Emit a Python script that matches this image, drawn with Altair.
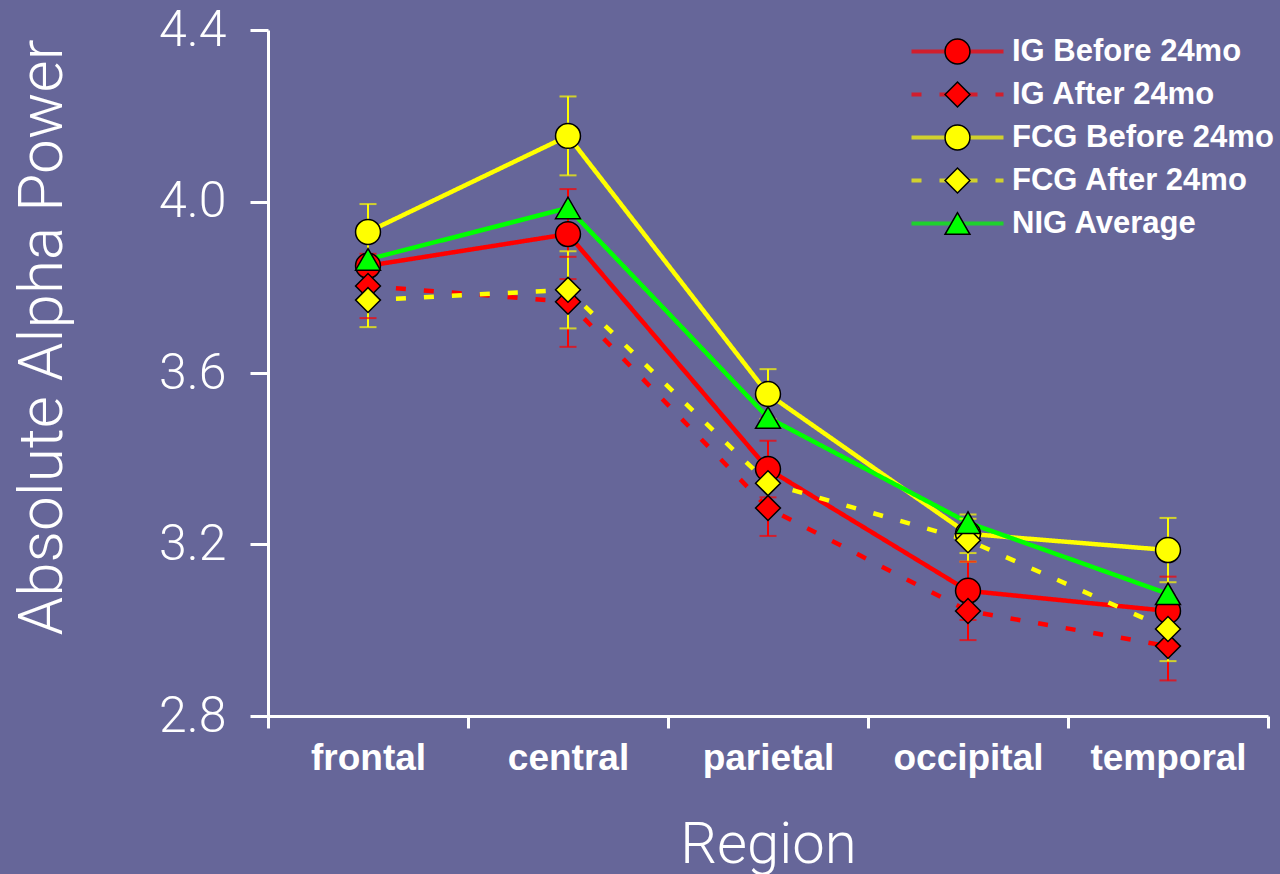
import altair as alt
import pandas as pd

regions = ["frontal", "central", "parietal", "occipital", "temporal"]
series_names = ["IG Before 24mo", "IG After 24mo", "FCG Before 24mo", "FCG After 24mo", "NIG Average"]

ig_before = [3.850, 3.924, 3.376, 3.092, 3.045]
ig_after = [3.803, 3.766, 3.285, 3.045, 2.963]
fcg_before = [3.929, 4.153, 3.551, 3.225, 3.187]
fcg_after = [3.770, 3.794, 3.343, 3.210, 3.003]
nig_average = [3.865, 3.985, 3.496, 3.251, 3.085]

ig_before_err = [0.08, 0.105, 0.066, 0.068, 0.08]
ig_after_err = [0.075, 0.105, 0.065, 0.068, 0.08]
fcg_before_err = [0.065, 0.092, 0.058, 0.045, 0.075]
fcg_after_err = [0.063, 0.09, 0.05, 0.05, 0.075]

colors = ["#ff0000", "#ff0000", "#ffff00", "#ffff00", "#00ff00"]
outline = ["#000000"] * 5
shapes = ["circle", "diamond", "circle", "diamond", "triangle-up"]
dashes = [[1, 0], [10, 18], [1, 0], [10, 18], [1, 0]]

values = [ig_before, ig_after, fcg_before, fcg_after, nig_average]
errors = [ig_before_err, ig_after_err, fcg_before_err, fcg_after_err, None]

# marker keys differ from the line keys so that the two legends stay separate
marker_names = [s + " (marker)" for s in series_names]

rows, err_rows = [], []
for s, m, vals, errs, c in zip(series_names, marker_names, values, errors, colors):
    for i, (r, v) in enumerate(zip(regions, vals)):
        rows.append({"series": s, "marker": m, "region": r, "value": v})
        if errs is not None:
            e = errs[i]
            err_rows.append({"series": s, "region": r, "lo": v - e, "hi": v + e, "ecolor": c})
df = pd.DataFrame(rows)
edf = pd.DataFrame(err_rows)

BG = "#666699"
LIGHT_FONT = "Roboto"
BOLD_FONT = "Liberation Sans"

x_enc = alt.X(
    "region:N",
    sort=regions,
    scale=alt.Scale(type="band", domain=regions, paddingInner=0, paddingOuter=0),
    axis=alt.Axis(
        title="Region", tickBand="extent", labelAngle=0,
        labelFont=BOLD_FONT, labelFontWeight="bold", labelFontSize=37, labelColor="white",
        labelPadding=12, tickSize=12, tickWidth=3, tickColor="white",
        domainColor="white", domainWidth=3,
        titleFont=LIGHT_FONT, titleFontWeight=300, titleFontSize=58, titleColor="white",
        titleBaseline="alphabetic", titleY=146,
    ),
)
y_scale = alt.Scale(domain=[2.8, 4.4], nice=False, zero=False)
y_enc = alt.Y(
    "value:Q", scale=y_scale,
    axis=alt.Axis(
        title="Absolute Alpha Power", values=[2.8, 3.2, 3.6, 4.0, 4.4], format=".1f", grid=False,
        labelFont=LIGHT_FONT, labelFontWeight=300, labelFontSize=50, labelColor="white",
        labelPadding=24, tickSize=18, tickWidth=3, tickColor="white",
        domainColor="white", domainWidth=3,
        titleFont=LIGHT_FONT, titleFontWeight=300, titleFontSize=62, titleColor="white",
        titleAngle=-90, titleBaseline="alphabetic", titleAlign="center",
        titleX=-207, titleY=307,
    ),
)

# a long horizontal stroke drawn from a compact symbol size, so rows keep the label height
LINE_SYMBOL = "M-3.68,0H3.68"

line_legend = alt.Legend(
    orient="none", legendX=674, legendY=6, title=None, padding=0,
    symbolType=LINE_SYMBOL, symbolSize=625, symbolStrokeWidth=4, symbolOpacity=1,
    labelFont=BOLD_FONT, labelFontWeight="bold", labelFontSize=31, labelColor="white",
    labelOffset=39, labelLimit=400, rowPadding=11,
)
marker_legend = alt.Legend(
    orient="none", legendX=674, legendY=6, title=None, padding=0,
    symbolSize=620, symbolStrokeWidth=1.5, symbolOpacity=1,
    labelFont=BOLD_FONT, labelFontWeight="bold", labelFontSize=31, labelExpr="''",
    labelLimit=400, rowPadding=11,
)

lines = alt.Chart(df).mark_line(strokeWidth=4.5).encode(
    x=x_enc, y=y_enc,
    color=alt.Color("series:N", scale=alt.Scale(domain=series_names, range=colors), legend=line_legend),
    strokeDash=alt.StrokeDash("series:N", scale=alt.Scale(domain=series_names, range=dashes), legend=line_legend),
)

err_rule = alt.Chart(edf).mark_rule(strokeWidth=2).encode(
    x=alt.X("region:N", sort=regions),
    y=alt.Y("lo:Q", scale=y_scale),
    y2="hi:Q",
    color=alt.Color("ecolor:N", scale=None),
)
err_lo = alt.Chart(edf).mark_tick(size=17, thickness=2).encode(
    x=alt.X("region:N", sort=regions),
    y=alt.Y("lo:Q", scale=y_scale),
    color=alt.Color("ecolor:N", scale=None),
)
err_hi = alt.Chart(edf).mark_tick(size=17, thickness=2).encode(
    x=alt.X("region:N", sort=regions),
    y=alt.Y("hi:Q", scale=y_scale),
    color=alt.Color("ecolor:N", scale=None),
)

points = alt.Chart(df).mark_point(filled=True, size=620, strokeWidth=1.5, opacity=1).encode(
    x=x_enc, y=y_enc,
    fill=alt.Fill("marker:N", scale=alt.Scale(domain=marker_names, range=colors), legend=marker_legend),
    stroke=alt.Stroke("marker:N", scale=alt.Scale(domain=marker_names, range=outline), legend=marker_legend),
    shape=alt.Shape("marker:N", scale=alt.Scale(domain=marker_names, range=shapes), legend=marker_legend),
)

chart = alt.layer(lines, err_rule, err_lo, err_hi, points).properties(
    width=1000, height=686,
    autosize=alt.AutoSizeParams(type="none"),
    padding={"left": 268, "top": 30, "right": 12, "bottom": 158},
).configure(background=BG).configure_view(stroke=None)

chart.save("out.html", embed_options={"renderer": "svg", "actions": False})
